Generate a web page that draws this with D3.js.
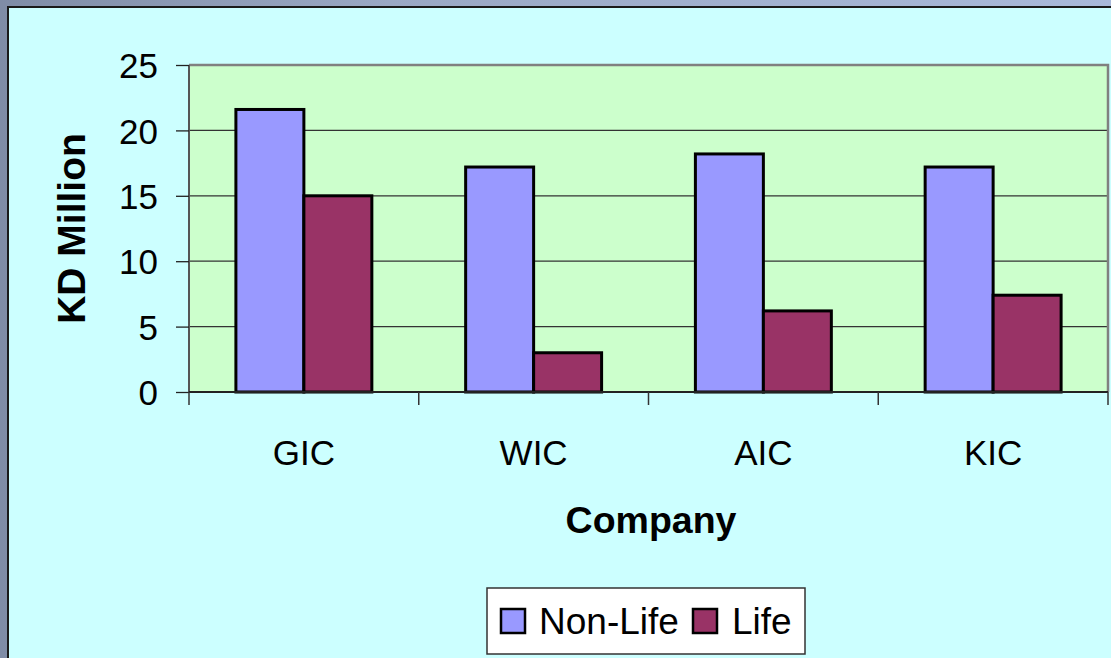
<!DOCTYPE html>
<html><head><meta charset="utf-8">
<script src="https://cdn.jsdelivr.net/npm/d3@7"></script>
<style>html,body{margin:0;padding:0;background:#8a9ab6;overflow:hidden}</style>
</head><body>
<script>
const categories = ["GIC", "WIC", "AIC", "KIC"];
const seriesNames = ["Non-Life", "Life"];
const nonLife = [21.6, 17.2, 18.2, 17.2];
const life = [15.0, 3.0, 6.2, 7.4];
const yTicks = [0, 5, 10, 15, 20, 25];
const colors = ["#9999FF", "#993366"];

const W = 1111, H = 658;
const svg = d3.select("body").append("svg").attr("width", W).attr("height", H);
const defs = svg.append("defs");
const g1 = defs.append("linearGradient").attr("id", "bg").attr("x1", 0).attr("y1", 0).attr("x2", 1).attr("y2", 0);
g1.append("stop").attr("offset", "0").attr("stop-color", "#7f8ca6");
g1.append("stop").attr("offset", "0.35").attr("stop-color", "#9aa8c4");
g1.append("stop").attr("offset", "1").attr("stop-color", "#a9b9da");
svg.append("rect").attr("width", W).attr("height", H).attr("fill", "url(#bg)");

// chart area
svg.append("rect").attr("x", 8).attr("y", 7).attr("width", W).attr("height", H)
  .attr("fill", "#CCFFFF").attr("stroke", "#1a1a1a").attr("stroke-width", 2);

const L = 189, R = 1108, T = 65, B = 392;
const x = d3.scaleBand().domain(categories).range([L, R]).padding(0);
const y = d3.scaleLinear().domain([0, 25]).range([B, T]);
const barW = x.bandwidth() / (2 + 1.38);
const xs = d3.scaleBand().domain(seriesNames).range([0, barW * 2]);

svg.append("rect").attr("x", L).attr("y", T).attr("width", R - L).attr("height", B - T)
  .attr("fill", "#CCFFCC");
// grid
svg.append("g").selectAll("line").data(yTicks.filter(d => d > 0 && d < 25)).join("line")
  .attr("x1", L).attr("x2", R).attr("y1", d => y(d)).attr("y2", d => y(d))
  .attr("stroke", "#333").attr("stroke-width", 1.3);
// plot border top/right
svg.append("path").attr("d", `M${L},${T}H${R}V${B}`).attr("fill", "none")
  .attr("stroke", "#808080").attr("stroke-width", 2.5);

// bars
const rows = categories.map((c, i) => ({c, vals: [nonLife[i], life[i]]}));
const gg = svg.append("g");
rows.forEach(r => {
  r.vals.forEach((v, j) => {
    const x0 = x(r.c) + (x.bandwidth() - 2 * barW) / 2 + xs(seriesNames[j]);
    gg.append("rect").attr("x", x0).attr("y", y(v)).attr("width", barW).attr("height", y(0) - y(v))
      .attr("fill", colors[j]).attr("stroke", "#000").attr("stroke-width", 3);
  });
});

// y axis
const ya = d3.axisLeft(y).tickValues(yTicks).tickSize(13).tickPadding(18);
const yg = svg.append("g").attr("transform", `translate(${L},0)`).call(ya);
yg.select(".domain").attr("stroke", "#555").attr("stroke-width", 2).attr("d", `M0,${T}V${B}`);
yg.selectAll(".tick line").attr("stroke", "#222").attr("stroke-width", 1.3);
yg.selectAll("text").attr("font-family", "Liberation Sans, Arial, sans-serif").attr("font-size", 35).attr("fill", "#000").attr("dy", "0.36em");

// x axis
const xa = d3.axisBottom(x).tickSize(0).tickPadding(0);
const xg = svg.append("g").attr("transform", `translate(0,${B})`).call(xa);
xg.select(".domain").attr("stroke", "#222").attr("stroke-width", 2).attr("d", `M${L},0H${R}`);
xg.selectAll(".tick text").attr("y", 73).attr("dy", 0).attr("font-family", "Liberation Sans, Arial, sans-serif").attr("font-size", 35).attr("fill", "#000");
const bounds = categories.map(c => x(c)).concat([R]);
xg.append("g").selectAll("line").data(bounds).join("line")
  .attr("x1", d => d).attr("x2", d => d).attr("y1", 0).attr("y2", 13)
  .attr("stroke", "#333").attr("stroke-width", 1.5);

// titles
svg.append("text").attr("x", 651).attr("y", 533).attr("text-anchor", "middle")
  .attr("font-family", "Liberation Sans, Arial, sans-serif").attr("font-weight", "bold").attr("font-size", 37.5)
  .text("Company");
svg.append("text").attr("transform", `translate(85,${(T + B) / 2}) rotate(-90)`).attr("text-anchor", "middle")
  .attr("font-family", "Liberation Sans, Arial, sans-serif").attr("font-weight", "bold").attr("font-size", 39)
  .text("KD Million");

// legend
const lg = svg.append("g");
lg.append("rect").attr("x", 487).attr("y", 588).attr("width", 318).attr("height", 66)
  .attr("fill", "#fff").attr("stroke", "#333").attr("stroke-width", 1.5);
const legX = [501, 693], legTX = [539, 732];
seriesNames.forEach((s, i) => {
  lg.append("rect").attr("x", legX[i]).attr("y", 609).attr("width", 24).attr("height", 24)
    .attr("fill", colors[i]).attr("stroke", "#000").attr("stroke-width", 2.5);
  lg.append("text").attr("x", legTX[i]).attr("y", 634)
    .attr("font-family", "Liberation Sans, Arial, sans-serif").attr("font-size", 37).text(s);
});
</script>
</body></html>
